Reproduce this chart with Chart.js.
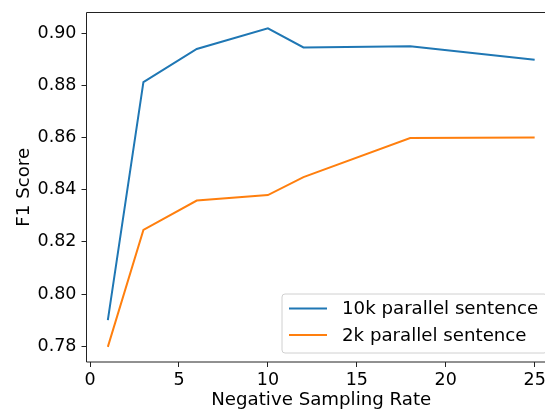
<!DOCTYPE html>
<html>
<head>
<meta charset="utf-8">
<script src="https://cdn.jsdelivr.net/npm/chart.js@4/dist/chart.umd.min.js"></script>
<style>
  html, body { margin: 0; padding: 0; background: #fff; overflow: hidden; }
  #wrap { width: 570px; height: 412px; }
</style>
</head>
<body>
<div id="wrap"><canvas id="f1_chart" width="570" height="412"></canvas></div>
<script>
// données
const samplingRates = [1, 3, 6, 10, 12, 18, 25];
const f1_10k = [0.790, 0.8814, 0.8941, 0.9020, 0.8947, 0.8951, 0.8900];
const f1_2k = [0.7797, 0.8246, 0.8359, 0.8380, 0.8449, 0.8599, 0.8601];
const seriesLabels = ["10k parallel sentence", "2k parallel sentence"];
const xTickValues = [0, 5, 10, 15, 20, 25];
const yTickValues = [0.78, 0.80, 0.82, 0.84, 0.86, 0.88, 0.90];

const FONT = "'DejaVu Sans', sans-serif";
const FS = 18.2;
const FS_TICK = 17.5;

// cadre complet comme les spines matplotlib
const spinesPlugin = {
    id: "spines",
    afterDraw(chart) {
        const { ctx, chartArea: a } = chart;
        ctx.save();
        ctx.strokeStyle = "#222";
        ctx.lineWidth = 1;
        ctx.beginPath();
        ctx.moveTo(a.left, a.bottom);
        ctx.lineTo(a.left, a.top);
        ctx.lineTo(a.right, a.top);
        ctx.lineTo(a.right, a.bottom);
        ctx.lineTo(a.left, a.bottom);
        ctx.stroke();
        ctx.restore();
    },
};

// légende façon matplotlib (en bas à droite, boîte arrondie)
const legendBoxPlugin = {
    id: "legendBox",
    afterDraw(chart) {
        const { ctx, chartArea: a } = chart;
        const right = a.right - 9;
        const bottom = a.bottom - 9;
        const left = 282;
        const top = 294;
        ctx.save();
        ctx.beginPath();
        ctx.roundRect(left, top, right - left, bottom - top, 3);
        ctx.fillStyle = "rgba(255,255,255,0.8)";
        ctx.fill();
        ctx.strokeStyle = "#d0d0d0";
        ctx.lineWidth = 1;
        ctx.stroke();
        ctx.font = FS + "px " + FONT;
        ctx.textBaseline = "middle";
        ctx.fillStyle = "#000";
        chart.data.datasets.forEach((ds, i) => {
            const y = 308.5 + i * 26.5;
            ctx.strokeStyle = ds.borderColor;
            ctx.lineWidth = 2;
            ctx.beginPath();
            ctx.moveTo(289, y);
            ctx.lineTo(327, y);
            ctx.stroke();
            ctx.fillText(ds.label, 342, y + 1);
        });
        ctx.restore();
    },
};

var ctxF1 = document.getElementById("f1_chart").getContext("2d");
new Chart(ctxF1, {
    type: "line",
    data: {
        datasets: [
            {
                label: seriesLabels[0],
                data: samplingRates.map((x, i) => ({ x: x, y: f1_10k[i] })),
                borderColor: "#1f77b4",
                borderWidth: 2,
                pointRadius: 0,
                tension: 0,
                fill: false,
            },
            {
                label: seriesLabels[1],
                data: samplingRates.map((x, i) => ({ x: x, y: f1_2k[i] })),
                borderColor: "#ff7f0e",
                borderWidth: 2,
                pointRadius: 0,
                tension: 0,
                fill: false,
            },
        ],
    },
    options: {
        responsive: false,
        animation: false,
        layout: { padding: { top: 12.5, right: 14, left: 0, bottom: 0 } },
        plugins: {
            legend: { display: false },
            tooltip: { enabled: false },
        },
        scales: {
            x: {
                type: "linear",
                min: -0.2,
                max: 26.2,
                afterBuildTicks: (scale) => {
                    scale.ticks = xTickValues.map((v) => ({ value: v }));
                },
                afterFit: (scale) => {
                    scale.height = 50;
                    scale.paddingLeft = 0;
                    scale.paddingRight = 0;
                },
                border: { display: false },
                grid: {
                    drawOnChartArea: false,
                    drawTicks: true,
                    tickLength: 5,
                    tickColor: "#222",
                },
                ticks: {
                    color: "#000",
                    padding: 3,
                    maxRotation: 0,
                    font: { family: FONT, size: FS_TICK },
                },
                title: {
                    display: true,
                    text: "Negative Sampling Rate",
                    color: "#000",
                    padding: { top: 0, bottom: 1 },
                    font: { family: FONT, size: FS },
                },
            },
            y: {
                min: 0.7739,
                max: 0.9081,
                afterBuildTicks: (scale) => {
                    scale.ticks = yTickValues.map((v) => ({ value: v }));
                },
                afterFit: (scale) => {
                    scale.width = 86.5;
                    scale.paddingTop = 0;
                    scale.paddingBottom = 0;
                },
                border: { display: false },
                grid: {
                    drawOnChartArea: false,
                    drawTicks: true,
                    tickLength: 5,
                    tickColor: "#222",
                },
                ticks: {
                    color: "#000",
                    padding: 5,
                    font: { family: FONT, size: FS_TICK },
                    callback: (v) => v.toFixed(2),
                },
                title: {
                    display: true,
                    text: "F1 Score",
                    color: "#000",
                    padding: { top: 13, bottom: 0 },
                    font: { family: FONT, size: FS },
                },
            },
        },
    },
    plugins: [spinesPlugin, legendBoxPlugin],
});
</script>
</body>
</html>
